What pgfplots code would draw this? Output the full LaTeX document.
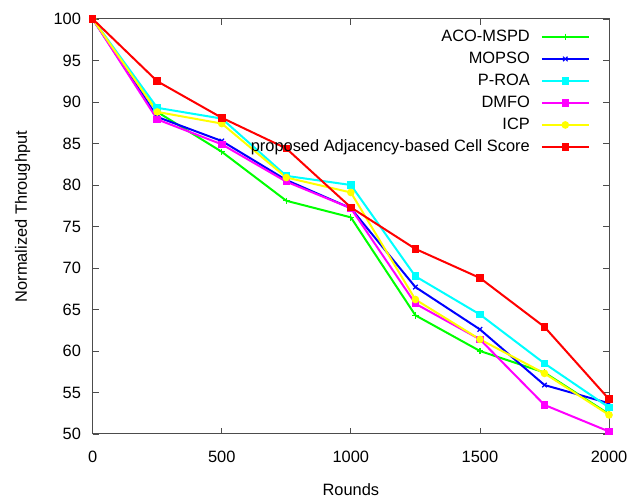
\documentclass[border=0pt]{standalone}
\usepackage{fontspec}
\setmainfont{Liberation Sans}
\usepackage{pgfplots}
\pgfplotsset{compat=1.18}
\begin{document}
\begin{tikzpicture}[font=\fontsize{16.4}{19}\selectfont]
\begin{axis}[
  scale only axis, width=516.3pt, height=415pt,
  xmin=0, xmax=2000, ymin=50, ymax=100,
  xtick={0,500,1000,1500,2000},
  ytick={50,55,60,65,70,75,80,85,90,95,100},
  /pgf/number format/assume math mode=true,
  /pgf/number format/1000 sep={},
  tick align=inside, major tick length=6pt,
  tick style={black!70, line width=0.8pt},
  axis line style={black!70, line width=1pt},
  xticklabel style={anchor=center, yshift=-22.7pt},
  yticklabel style={xshift=-8.2pt},
  xlabel={Rounds}, ylabel={Normalized Throughput},
  xlabel style={at={(axis description cs:0.5,-0.135)}, anchor=center},
  ylabel style={at={(axis description cs:-0.1356,0.5236)}, anchor=center},
  legend plot pos=right,
  legend cell align=right,
  legend style={draw=none, fill=none, at={(rel axis cs:1,1)}, anchor=north east,
     xshift=-19pt, yshift=-10pt, inner sep=0pt, row sep=6.5pt, column sep=11pt,
     nodes={inner sep=0pt, text height=12pt, text depth=3.5pt}},
  legend image code/.code={\draw[mark repeat=2,mark phase=2] plot coordinates {(0pt,0pt) (23.5pt,0pt) (47pt,0pt)};},
  every axis plot/.append style={line width=2pt, mark size=3.2pt, mark options={solid, line width=1.2pt}},
]
\addplot[color={rgb,255:red,0;green,255;blue,0}, mark=+] coordinates {
 (0,100) (250,88.8) (500,84.0) (750,78.1) (1000,76.1) (1250,64.3) (1500,60.0) (1750,57.4) (2000,52.4)};
\addlegendentry{ACO-MSPD}
\addplot[color={rgb,255:red,0;green,0;blue,255}, mark=x] coordinates {
 (0,100) (250,88.2) (500,85.3) (750,80.6) (1000,77.2) (1250,67.7) (1500,62.6) (1750,55.9) (2000,53.7)};
\addlegendentry{MOPSO}
\addplot[color={rgb,255:red,0;green,255;blue,255}, mark=square*] coordinates {
 (0,100) (250,89.3) (500,88.0) (750,81.1) (1000,80.0) (1250,69.0) (1500,64.4) (1750,58.5) (2000,53.2)};
\addlegendentry{P-ROA}
\addplot[color={rgb,255:red,255;green,0;blue,255}, mark=square*] coordinates {
 (0,100) (250,87.9) (500,84.9) (750,80.4) (1000,77.2) (1250,65.7) (1500,61.4) (1750,53.5) (2000,50.3)};
\addlegendentry{DMFO}
\addplot[color={rgb,255:red,255;green,255;blue,0}, mark=*] coordinates {
 (0,100) (250,88.8) (500,87.4) (750,80.9) (1000,79.1) (1250,66.2) (1500,61.4) (1750,57.3) (2000,52.3)};
\addlegendentry{ICP}
\addplot[color={rgb,255:red,255;green,0;blue,0}, mark=square*] coordinates {
 (0,100) (250,92.5) (500,88.1) (750,84.4) (1000,77.3) (1250,72.3) (1500,68.8) (1750,62.9) (2000,54.2)};
\addlegendentry{proposed Adjacency-based Cell Score}
\end{axis}
\path (current axis.south west) ++(-92.7pt,-67pt) coordinate (bl);
\path (current axis.north east) ++(30pt,19pt) coordinate (tr);
\useasboundingbox (bl) rectangle (tr);
\end{tikzpicture}
\end{document}
